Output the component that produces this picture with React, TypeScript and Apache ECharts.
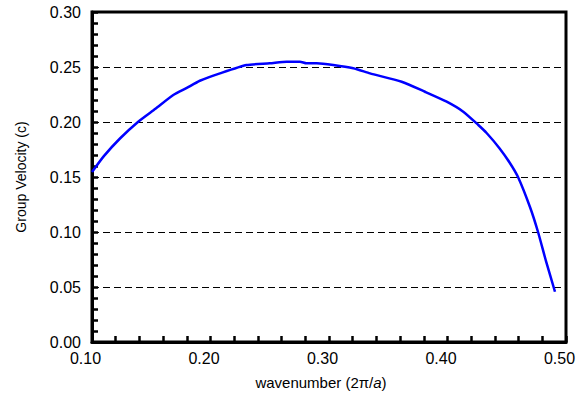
import React, { useEffect, useRef } from "react";
import * as echarts from "echarts";

const waveNumbers = [
  0.1, 0.11, 0.1236, 0.139, 0.1535, 0.1686, 0.18, 0.191, 0.208, 0.2305, 0.25,
  0.2643, 0.2755, 0.281, 0.2896, 0.3036, 0.3205, 0.3346, 0.3613, 0.381, 0.3993,
  0.4133, 0.426, 0.433, 0.444, 0.4525, 0.4595, 0.4696, 0.4764, 0.483, 0.4907,
];
const groupVelocities = [
  0.1545, 0.169, 0.185, 0.2003, 0.212, 0.2245, 0.231, 0.2375, 0.2442, 0.2518,
  0.2533, 0.2548, 0.2548, 0.2533, 0.2533, 0.2518, 0.2488, 0.2442, 0.2366,
  0.2275, 0.2185, 0.2094, 0.1973, 0.19, 0.176, 0.163, 0.15, 0.1227, 0.1, 0.074,
  0.0457,
];
const xTitle = "wavenumber (2π/{i|a})";
const yTitle = "Group Velocity (c)";

const FONT = "'Liberation Sans', Arial, sans-serif";

export default function App() {
  const ref = useRef<HTMLDivElement>(null);
  useEffect(() => {
    if (!ref.current) return;
    const chart = echarts.init(ref.current, undefined, { renderer: "svg" });
    const data = waveNumbers.map((x, i) => [x, groupVelocities[i]]);
    chart.setOption({
      animation: false,
      backgroundColor: "#fff",
      grid: {
        left: 92,
        top: 12,
        right: 13,
        bottom: 56,
        show: true,
        borderColor: "#000",
        borderWidth: 3,
      },
      xAxis: {
        type: "value",
        min: 0.1,
        max: 0.5,
        interval: 0.1,
        name: xTitle,
        nameLocation: "middle",
        nameGap: 33,
        nameTextStyle: {
          fontFamily: FONT,
          fontSize: 15,
          color: "#000",
          padding: [0, 16, 0, 0],
          rich: {
            i: { fontFamily: FONT, fontSize: 15, fontStyle: "italic", color: "#000" },
          },
        },
        axisLine: { show: true, lineStyle: { color: "#000", width: 3 } },
        axisTick: { show: true, inside: true, length: 6, lineStyle: { color: "#000", width: 2.5 } },
        minorTick: { show: true, splitNumber: 5, length: 6, lineStyle: { color: "#000", width: 2.5 } },
        splitLine: { show: false },
        axisLabel: {
          fontFamily: FONT,
          fontSize: 16,
          color: "#000",
          margin: 8,
          padding: [0, 13, 0, 0],
          formatter: (v: number) => v.toFixed(2),
        },
      },
      yAxis: {
        type: "value",
        min: 0,
        max: 0.3,
        interval: 0.05,
        name: yTitle,
        nameLocation: "middle",
        nameRotate: 90,
        nameGap: 64,
        nameTextStyle: { fontFamily: FONT, fontSize: 14, color: "#000" },
        axisLine: { show: true, lineStyle: { color: "#000", width: 3 } },
        axisTick: { show: true, inside: true, length: 6, lineStyle: { color: "#000", width: 2.5 } },
        minorTick: { show: true, splitNumber: 5, length: 6, lineStyle: { color: "#000", width: 2.5 } },
        splitLine: { show: true, lineStyle: { color: "#000", width: 1, type: [7, 4] } },
        axisLabel: {
          fontFamily: FONT,
          fontSize: 16,
          color: "#000",
          margin: 11,
          formatter: (v: number) => v.toFixed(2),
        },
      },
      series: [
        {
          type: "line",
          data,
          showSymbol: false,
          smooth: 0.2,
          lineStyle: { color: "#0000FF", width: 2.5 },
        },
      ],
    });
    return () => chart.dispose();
  }, []);
  return (
    <div
      ref={ref}
      style={{ position: "absolute", left: 0, top: 0, width: 579, height: 398 }}
    />
  );
}
